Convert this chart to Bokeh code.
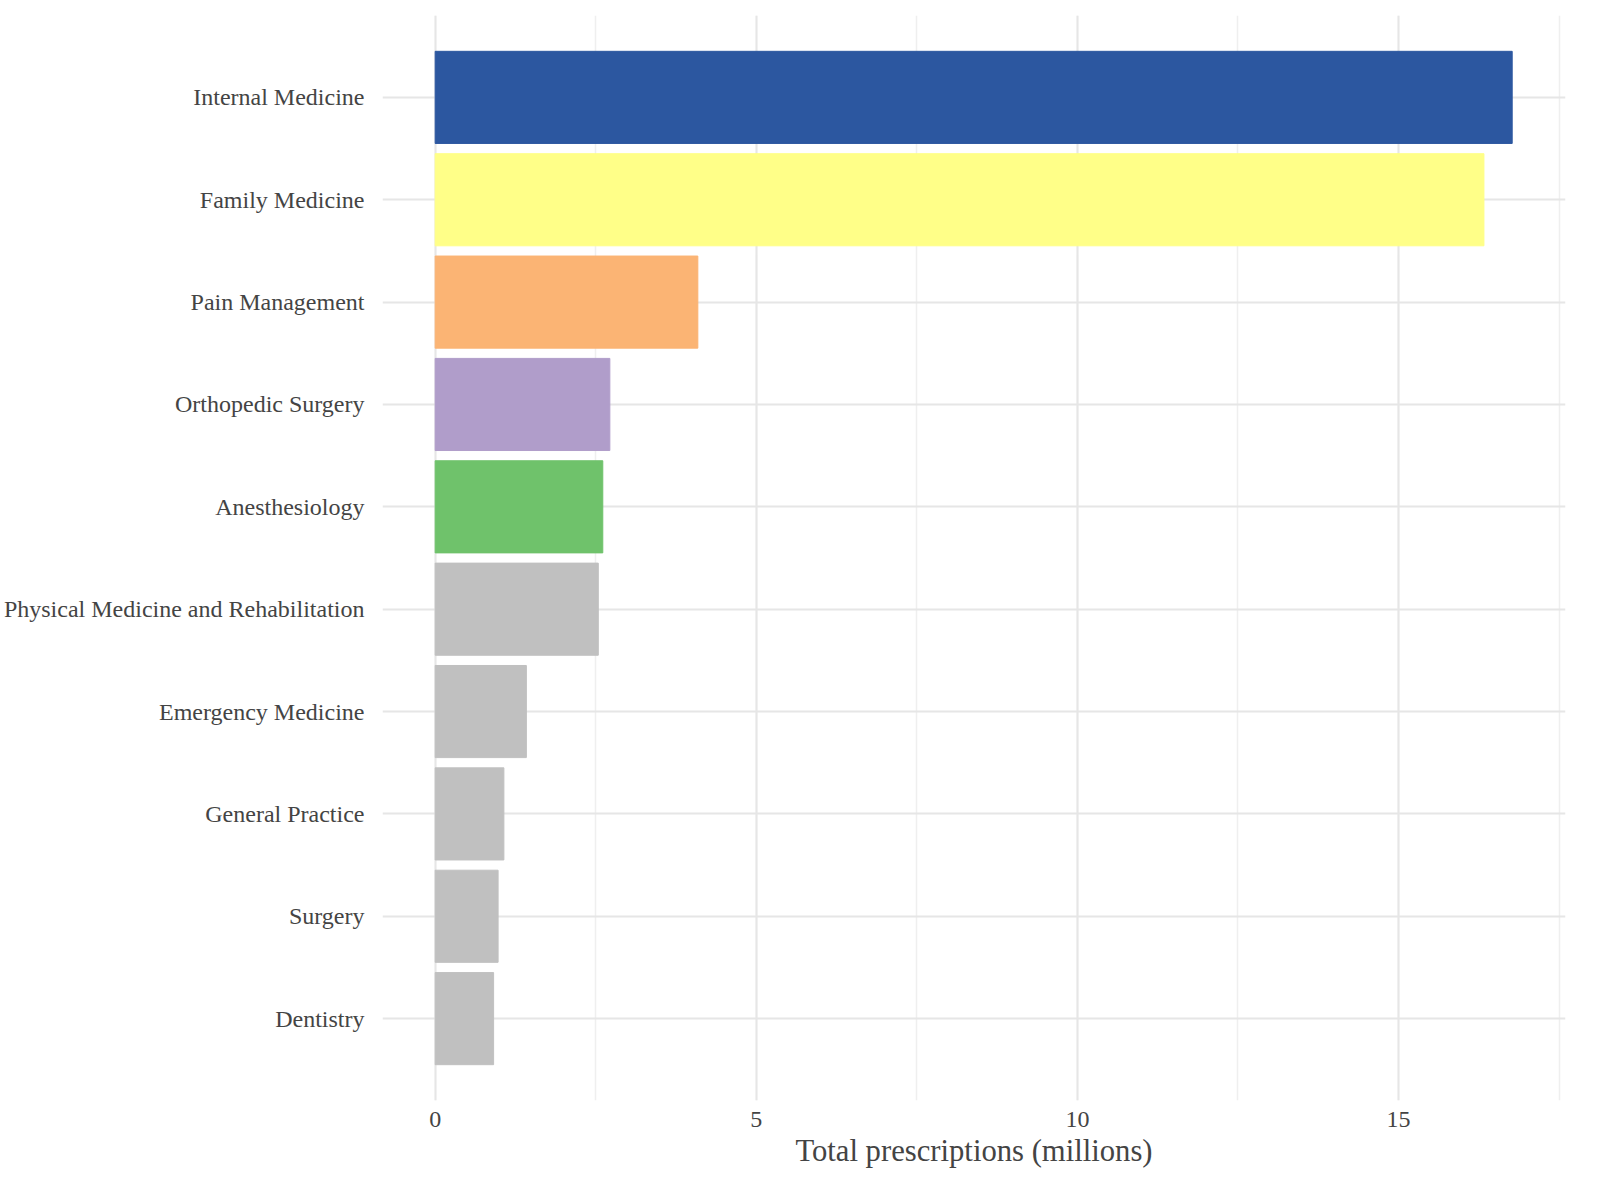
from bokeh.plotting import figure
from bokeh.models import ColumnDataSource, FactorRange, Range1d, SingleIntervalTicker
from bokeh.embed import file_html
from bokeh.resources import INLINE

specialties = ["Internal Medicine", "Family Medicine", "Pain Management", "Orthopedic Surgery",
               "Anesthesiology", "Physical Medicine and Rehabilitation", "Emergency Medicine",
               "General Practice", "Surgery", "Dentistry"]
prescriptions = [16.77, 16.33, 4.09, 2.72, 2.61, 2.54, 1.42, 1.07, 0.98, 0.91]
colors = ["#2c57a0", "#ffff88", "#fbb474", "#b09dca", "#6fc26b",
          "#c0c0c0", "#c0c0c0", "#c0c0c0", "#c0c0c0", "#c0c0c0"]

source = ColumnDataSource(data=dict(spec=specialties, value=prescriptions, color=colors))

font = "Liberation Serif"
p = figure(width=1570, height=1170, output_backend="svg", toolbar_location=None,
           y_range=FactorRange(factors=specialties[::-1], range_padding=0.06),
           x_range=Range1d(-0.82, 17.6), min_border_left=50, min_border_top=15)
p.hbar(y="spec", right="value", left=0, height=0.9, color="color", source=source)

p.outline_line_color = None
p.xaxis.ticker = SingleIntervalTicker(interval=5, num_minor_ticks=2)
p.xaxis.axis_label = "Total prescriptions (millions)"
p.xaxis.axis_label_text_font = font
p.xaxis.axis_label_text_font_style = "normal"
p.xaxis.axis_label_text_font_size = "23pt"
p.xaxis.axis_label_standoff = 4
for ax in (p.xaxis, p.yaxis):
    ax.axis_line_color = None
    ax.major_tick_line_color = None
    ax.minor_tick_line_color = None
    ax.major_label_text_font = font
    ax.major_label_text_font_size = "18pt"
    ax.major_label_text_color = "#444444"
p.yaxis.major_label_standoff = 12
p.xgrid.grid_line_color = "#e6e6e6"
p.xgrid.grid_line_width = 2
p.xgrid.minor_grid_line_color = "#efefef"
p.xgrid.minor_grid_line_width = 1.5
p.ygrid.grid_line_color = "#e6e6e6"
p.ygrid.grid_line_width = 2

open("out.html", "w").write(file_html(p, INLINE))
